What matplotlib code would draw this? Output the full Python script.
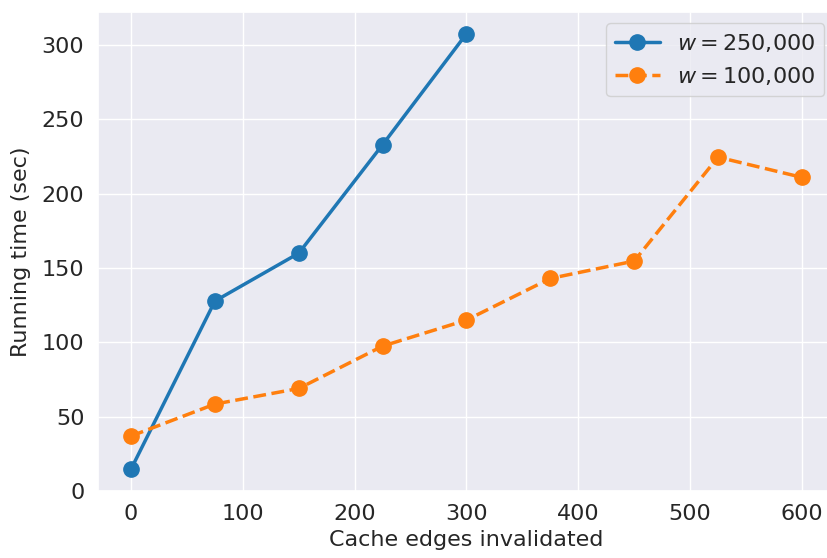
import numpy as np
import matplotlib
matplotlib.use("Agg")
import matplotlib.pyplot as plt
import seaborn as sns

sns.set_theme(style="darkgrid")
plt.rcParams['font.family'] = ['DejaVu Sans']

x_large = [0, 75, 150, 225, 300]
t_large = [14.8, 127.8, 160, 233, 307.6]
x_small = [0, 75, 150, 225, 300, 375, 450, 525, 600]
t_small = [37, 58.5, 69, 97.5, 115, 143, 154.7, 224.6, 211]

fig, ax = plt.subplots(figsize=(8.28, 5.58), dpi=100)
ax.plot(x_large, t_large, '-o', color='#1f77b4', lw=2.5, ms=11, label=r'$w = 250{,}000$')
ax.plot(x_small, t_small, '--o', color='#ff7f0e', lw=2.5, ms=11, label=r'$w = 100{,}000$')
ax.set_ylim(bottom=0)
ax.set_xlabel('Cache edges invalidated', fontsize=16)
ax.set_ylabel('Running time (sec)', fontsize=16, labelpad=8)
ax.tick_params(labelsize=16)
ax.legend(fontsize=16, loc='upper right')
fig.subplots_adjust(left=0.1178, right=1.009, top=0.9785, bottom=0.12)
fig.savefig('out.png')
